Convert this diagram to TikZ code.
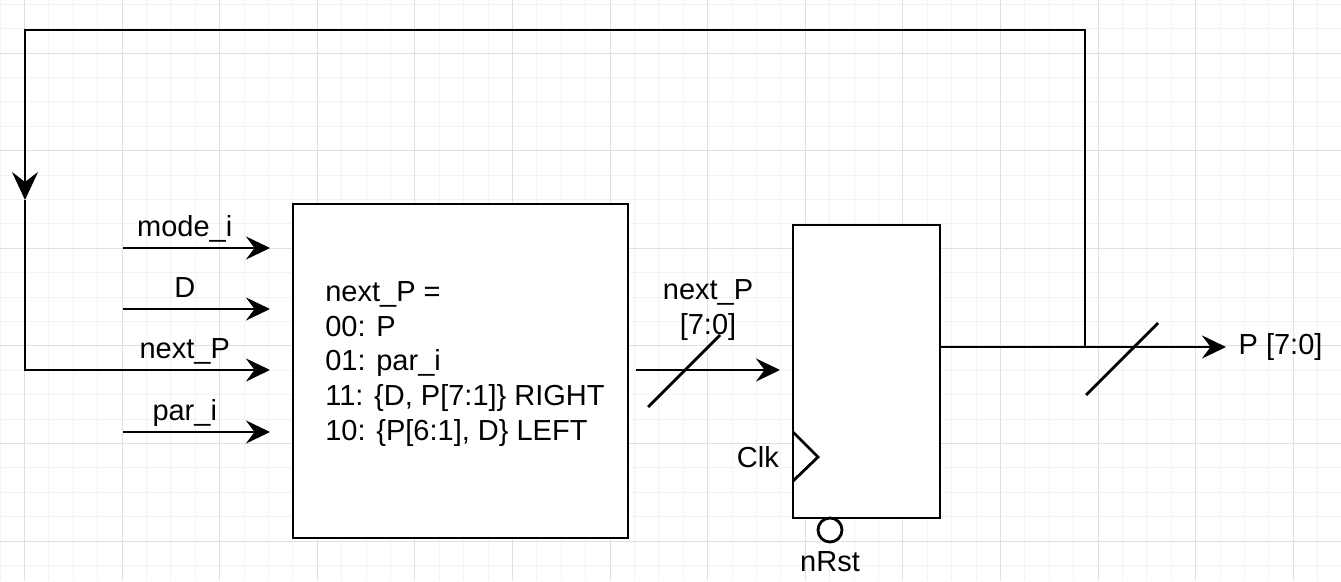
\documentclass[tikz,border=0pt]{standalone}
\usepackage{fontspec}
\setmainfont{Liberation Sans}
\usetikzlibrary{arrows.meta, positioning}
\definecolor{gridminor}{HTML}{F3F3F3}
\definecolor{gridmajor}{HTML}{E0E0E0}

\begin{document}
\begin{tikzpicture}[x=0.02cm, y=-0.02cm, font=\fontsize{16.5pt}{19.9pt}\selectfont,
    wire/.style={line width=1.6pt},
    sig/.style={wire, -{Stealth[length=0.48cm, width=0.46cm, inset=0.17cm]}},
    fbsig/.style={wire, -{Stealth[length=0.56cm, width=0.52cm, inset=0.2cm]}},
    box/.style={draw, wire, fill=white}]
  \useasboundingbox (0,0) rectangle (1341,581);
  % grid
  \foreach \k in {0,...,54}
    \draw[gridminor, line width=0.5pt] (24.4*\k,0) -- (24.4*\k,581);
  \foreach \k in {0,...,23}
    \draw[gridminor, line width=0.5pt] (0,4.2+24.4*\k) -- (1341,4.2+24.4*\k);
  \foreach \k in {1,5,...,53}
    \draw[gridmajor, line width=0.5pt] (24.4*\k,0) -- (24.4*\k,581);
  \foreach \k in {2,6,...,22}
    \draw[gridmajor, line width=0.5pt] (0,4.2+24.4*\k) -- (1341,4.2+24.4*\k);

  % mux logic
  \node[box, minimum width=6.7cm, minimum height=6.68cm] (logic) at (460.5,371) {};
  \node[anchor=west, align=left, inner sep=0pt] (rules) at (325,364)
    {next\_P =\\00: P\\01: par\_i\\11: \{D, P[7:1]\} RIGHT\\10: \{P[6:1], D\} LEFT};

  % inputs
  \foreach \y/\nm/\txt in {248/mode/mode\_i, 309/d/D, 370/nxt/next\_P, 432/par/par\_i} {
    \coordinate (\nm s) at (123,\y);
    \coordinate (\nm e) at (270,\y);
    \draw[sig] (\nm s) -- node[pos=0.42, anchor=base, yshift=6.5pt, inner sep=0pt] (\nm l) {\txt} (\nm e);
  }

  % register
  \node[box, minimum width=2.94cm, minimum height=5.86cm] (reg) at (866.5,371.5) {};
  \draw[wire] (793,432) -- (818,457) -- (793,481);
  \node[anchor=east] (clk) at (785,457) {Clk};
  \node[box, circle, minimum size=0.48cm, inner sep=0pt] (rstb) at (830,530) {};
  \node[below=1pt of rstb] (rst) {nRst};

  % next_P bus
  \coordinate (nps) at (636,370);
  \coordinate (npe) at (780,370);
  \draw[sig] (nps) -- (npe);
  \draw[wire] (648,407) -- (720,335);
  \node[align=center] (nplbl) at (708,310) {next\_P\\{[7:0]}};

  % output and feedback
  \coordinate (branch) at (1085,347);
  \coordinate (pend) at (1226,347);
  \draw[sig] (reg.east |- branch) -- (pend);
  \draw[wire] (1086,395) -- (1158,323);
  \node[anchor=west, inner sep=7pt] (pout) at (pend) {P [7:0]};
  \coordinate (fbtop) at (25,30);
  \coordinate (fbtip) at (25,200);
  \draw[fbsig] (branch) |- (fbtop) -- (fbtip);
  \draw[wire] (fbtip) |- (nxts);
\end{tikzpicture}
\end{document}
